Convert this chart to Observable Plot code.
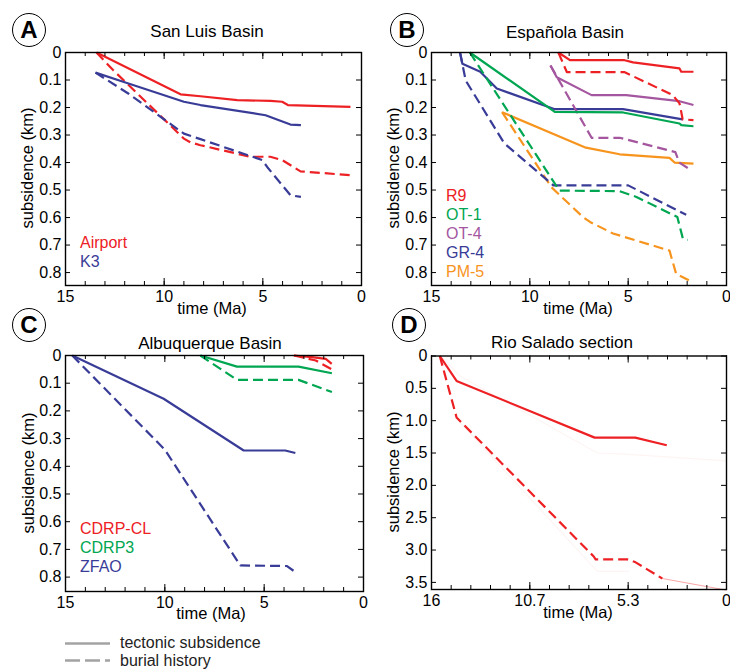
<!DOCTYPE html>
<html><head><meta charset="utf-8">
<script src="https://cdn.jsdelivr.net/npm/d3@7"></script>
<script src="https://cdn.jsdelivr.net/npm/@observablehq/plot@0.6"></script>
<style>
body{margin:0;background:#fff;font-family:"Liberation Sans",Arial,sans-serif;color:#000}
#wrap{position:relative;width:730px;height:670px;overflow:hidden}
.panel{position:absolute}
.c{position:absolute;transform:translate(-50%,-50%);white-space:nowrap;line-height:1}
.title{font-size:17px}
.xlab{font-size:16.5px}
.ylab{font-size:16.5px;transform:translate(-50%,-50%) rotate(-90deg)}
.letter{position:absolute;width:32px;height:32px;border:1.3px solid #000;border-radius:50%;font-weight:bold;font-size:24px;line-height:32px;text-align:center;background:#fff}
.leg{position:absolute;font-size:16px;line-height:1;transform:translateY(-50%);white-space:nowrap}
</style>
</head><body>
<div id="wrap">
  <div class="panel" id="pA" style="left:0;top:0"></div>
  <div class="panel" id="pB" style="left:365px;top:0"></div>
  <div class="panel" id="pC" style="left:0;top:310px"></div>
  <div class="panel" id="pD" style="left:365px;top:310px"></div>
  <div id="labels"></div>
</div>
<script>
// ---------- colours ----------
const RED = "#ED2024", BLUE = "#393C97", GREEN = "#00A651", PURPLE = "#A4569F", ORANGE = "#F7941D", GRAY = "#A3A3A3";

// ---------- tick labels ----------
const xTicksABC = [15, 10, 5, 0];
const xTicksD = [16, 32 / 3, 16 / 3, 0];
const xTickLabelsD = ["16", "10.7", "5.3", "0"];
const yTicksABC = [0, 0.1, 0.2, 0.3, 0.4, 0.5, 0.6, 0.7, 0.8];
const yTicksD = [0, 0.5, 1.0, 1.5, 2.0, 2.5, 3.0, 3.5];

// ---------- A: San Luis Basin  [time Ma, subsidence km] ----------
const airportTectonic = [[13.43,0],[9.17,0.152],[8.16,0.159],[6.3,0.173],[4.61,0.176],[4.02,0.179],[3.73,0.191],[0.56,0.198]];
const airportBurial = [[13.43,0],[12.6,0.063],[9.0,0.313],[8.66,0.327],[8.16,0.337],[5.63,0.379],[4.62,0.379],[4.02,0.391],[3.09,0.432],[0.56,0.446]];
const k3Tectonic = [[13.48,0.073],[12.04,0.107],[9.0,0.179],[8.16,0.191],[4.86,0.228],[3.6,0.262],[3.07,0.264]];
const k3Burial = [[13.48,0.073],[11.8,0.15],[9.0,0.295],[8.16,0.315],[5.03,0.391],[4.78,0.416],[3.6,0.519],[3.07,0.525]];

// ---------- B: Española Basin ----------
const r9Tectonic = [[8.55,0],[7.96,0.028],[5.18,0.028],[4.75,0.036],[2.39,0.058],[2.3,0.07],[1.68,0.07]];
const r9Burial = [[8.55,0],[8.12,0.071],[5.2,0.071],[2.73,0.155],[2.39,0.185],[2.3,0.216],[2.23,0.243],[1.68,0.246]];
const ot1Tectonic = [[13.05,0],[8.73,0.216],[5.26,0.218],[2.39,0.258],[2.3,0.264],[1.68,0.268]];
const ot1Burial = [[13.05,0],[8.5,0.502],[5.43,0.504],[4.58,0.525],[2.5,0.598],[2.22,0.676],[1.97,0.681]];
const ot4Tectonic = [[8.95,0.047],[8.63,0.09],[6.86,0.155],[5.1,0.155],[2.39,0.177],[1.68,0.191]];
const ot4Burial = [[8.95,0.047],[6.86,0.31],[5.43,0.31],[2.6,0.362],[2.4,0.4],[1.97,0.42]];
const gr4Tectonic = [[13.55,0],[13.43,0.041],[12.52,0.07],[11.68,0.131],[8.73,0.206],[5.26,0.206],[2.23,0.243]];
const gr4Burial = [[13.55,0],[13.26,0.102],[11.3,0.33],[8.8,0.483],[5.0,0.483],[2.05,0.59]];
const pm5Tectonic = [[11.41,0.217],[7.15,0.346],[5.43,0.37],[2.9,0.383],[2.64,0.4],[1.68,0.404]];
const pm5Burial = [[11.41,0.217],[8.9,0.49],[7.3,0.598],[6.94,0.616],[5.77,0.658],[2.9,0.72],[2.56,0.805],[1.72,0.835]];

// ---------- C: Albuquerque Basin ----------
const cdrpclTectonic = [[3.5,0],[2.6,0.006],[1.9,0.012],[1.6,0.03]];
const cdrpclBurial = [[3.5,0],[2.4,0.018],[1.6,0.05]];
const cdrp3Tectonic = [[8.21,0],[6.37,0.04],[3.27,0.04],[1.59,0.064]];
const cdrp3Burial = [[8.21,0],[6.37,0.088],[3.27,0.088],[1.59,0.132]];
const zfaoTectonic = [[14.66,0],[10.06,0.156],[6.03,0.343],[3.94,0.343],[3.43,0.352]];
const zfaoBurial = [[14.66,0],[10.0,0.34],[6.2,0.758],[3.85,0.76],[3.43,0.782]];

// ---------- D: Rio Salado section ----------
const rioTectonic = [[15.55,0],[14.64,0.386],[7.15,1.262],[4.95,1.262],[3.24,1.38]];
const rioBurial = [[15.55,0],[14.64,0.95],[7.2,3.1],[7.1,3.144],[5.38,3.144],[4.93,3.19],[3.48,3.44]];
const rioBurialTail = [[3.48,3.44],[0,3.62]];
const rioGhostTectonic = [[15.5,0],[14.5,0.3],[7.0,1.5],[5.3,1.52],[0,1.62]];
const rioGhostBurial = [[14.6,0.98],[7.0,3.33],[5.3,3.33]];

const DASH = "10,5";

function panel({el, xDomain, yMax, ml, mr, mt, h, frameBottom, xMinor, xMajor, xFmt, yTicks, series}) {
  const W = 365;
  const mb = h - frameBottom;
  const innerH = frameBottom - mt;
  const innerW = W - ml - mr;
  const marks = [];
  for (const s of series) {
    marks.push(Plot.line(s.data, {
      x: d => d[0], y: d => d[1], stroke: s.color,
      strokeWidth: s.width ?? 2.2, strokeDasharray: s.dash ? DASH : null,
      strokeOpacity: s.opacity ?? 1, strokeLinecap: "butt", strokeLinejoin: "round"
    }));
  }
  const majorSet = new Set(xMajor.map(v => +v.toFixed(3)));
  const isMajor = v => majorSet.has(+v.toFixed(3));
  // inward ticks, MATLAB box style
  marks.push(Plot.tickX(xMinor, {x: d => d, insetTop: innerH - 4, stroke: "#000", strokeWidth: 1}));
  marks.push(Plot.tickX(xMinor, {x: d => d, insetBottom: innerH - 4, stroke: "#000", strokeWidth: 1}));
  marks.push(Plot.tickX(xMinor.filter(isMajor), {x: d => d, insetTop: innerH - 7, stroke: "#000", strokeWidth: 1}));
  marks.push(Plot.tickX(xMinor.filter(isMajor), {x: d => d, insetBottom: innerH - 7, stroke: "#000", strokeWidth: 1}));
  marks.push(Plot.tickY(yTicks, {y: d => d, insetRight: innerW - 5, stroke: "#000", strokeWidth: 1}));
  marks.push(Plot.tickY(yTicks, {y: d => d, insetLeft: innerW - 5, stroke: "#000", strokeWidth: 1}));
  marks.push(Plot.axisX(xMajor, {anchor: "bottom", tickSize: 0, tickPadding: 5, label: null, tickFormat: xFmt, fontSize: 16}));
  marks.push(Plot.axisY(yTicks, {anchor: "left", tickSize: 0, tickPadding: 4, label: null,
    tickFormat: d => d === 0 ? "0" : d.toFixed(1), fontSize: 16}));
  marks.push(Plot.frame({stroke: "#000", strokeWidth: 1.4}));
  const svg = Plot.plot({
    width: W, height: h,
    marginLeft: ml, marginRight: mr, marginTop: mt, marginBottom: mb,
    x: {domain: xDomain},
    y: {domain: [0, yMax], reverse: true},
    style: {fontFamily: "'Liberation Sans', Arial, sans-serif", fontSize: "16px", background: "transparent", overflow: "visible", color: "#000"},
    marks
  });
  document.getElementById(el).appendChild(svg);
}

const minorABC = d3.range(0, 16, 1);
const minorD = d3.range(0, 16).map(i => 16 * i / 15).concat([16]);

panel({el: "pA", xDomain: [15, 0], yMax: 0.847, ml: 65, mr: 4, mt: 52, h: 330, frameBottom: 285,
  xMinor: minorABC, xMajor: xTicksABC, xFmt: d => String(d), yTicks: yTicksABC,
  series: [
    {data: airportTectonic, color: RED}, {data: airportBurial, color: RED, dash: true},
    {data: k3Tectonic, color: BLUE}, {data: k3Burial, color: BLUE, dash: true}
  ]});

panel({el: "pB", xDomain: [15, 0], yMax: 0.847, ml: 66, mr: 4, mt: 52, h: 330, frameBottom: 285,
  xMinor: minorABC, xMajor: xTicksABC, xFmt: d => String(d), yTicks: yTicksABC,
  series: [
    {data: pm5Burial, color: ORANGE, dash: true}, {data: pm5Tectonic, color: ORANGE},
    {data: gr4Burial, color: BLUE, dash: true}, {data: gr4Tectonic, color: BLUE},
    {data: ot4Burial, color: PURPLE, dash: true}, {data: ot4Tectonic, color: PURPLE},
    {data: ot1Burial, color: GREEN, dash: true}, {data: ot1Tectonic, color: GREEN},
    {data: r9Burial, color: RED, dash: true}, {data: r9Tectonic, color: RED}
  ]});

panel({el: "pC", xDomain: [15, 0], yMax: 0.852, ml: 65, mr: 2, mt: 45, h: 330, frameBottom: 281,
  xMinor: minorABC, xMajor: xTicksABC, xFmt: d => String(d), yTicks: yTicksABC,
  series: [
    {data: zfaoTectonic, color: BLUE}, {data: zfaoBurial, color: BLUE, dash: true},
    {data: cdrp3Tectonic, color: GREEN}, {data: cdrp3Burial, color: GREEN, dash: true},
    {data: cdrpclTectonic, color: RED}, {data: cdrpclBurial, color: RED, dash: true}
  ]});

panel({el: "pD", xDomain: [16, 0], yMax: 3.61, ml: 66, mr: 4, mt: 45.5, h: 330, frameBottom: 279,
  xMinor: minorD, xMajor: xTicksD, xFmt: (d, i) => xTickLabelsD[i], yTicks: yTicksD,
  series: [
    {data: rioGhostTectonic, color: RED, width: 1.2, opacity: 0.05},
    {data: rioGhostBurial, color: RED, width: 1.2, opacity: 0.05},
    {data: rioBurialTail, color: RED, width: 1, opacity: 0.4},
    {data: rioTectonic, color: RED}, {data: rioBurial, color: RED, dash: true}
  ]});

// ---------- text overlays ----------
const titles = ["San Luis Basin", "Española Basin", "Albuquerque Basin", "Rio Salado section"];
const letters = ["A", "B", "C", "D"];
const titlePos = [[207, 31], [565, 31.5], [210, 343], [562, 342]];
const letterPos = [[29, 30], [407, 30], [29, 325], [409, 325]];
const xlabPos = [[212, 308], [578, 308], [211, 613], [578, 612]];
const ylabPos = [[27, 168], [393, 168], [28, 473], [393, 472]];
const legendNames = [["Airport", "K3"], ["R9", "OT-1", "OT-4", "GR-4", "PM-5"], ["CDRP-CL", "CDRP3", "ZFAO"], []];
const legendColors = [[RED, BLUE], [RED, GREEN, PURPLE, BLUE, ORANGE], [RED, GREEN, BLUE], []];
const legendStart = [[80, 243, 19], [446, 196, 18.9], [80, 528.5, 19.2], [0, 0, 0]];

const L = document.getElementById("labels");
let html = "";
for (let i = 0; i < 4; i++) {
  html += `<div class="c xlab" style="left:${xlabPos[i][0]}px;top:${xlabPos[i][1]}px">time (Ma)</div>`;
  html += `<div class="c ylab" style="left:${ylabPos[i][0]}px;top:${ylabPos[i][1]}px">subsidence (km)</div>`;
}
for (let i = 0; i < 4; i++) {
  html += `<div class="c title" style="left:${titlePos[i][0]}px;top:${titlePos[i][1]}px">${titles[i]}</div>`;
  html += `<div class="letter" style="left:${letterPos[i][0] - 17}px;top:${letterPos[i][1] - 17}px">${letters[i]}</div>`;
  legendNames[i].forEach((n, j) => {
    const [lx, ly, dy] = legendStart[i];
    html += `<div class="leg" style="left:${lx}px;top:${ly + j * dy}px;color:${legendColors[i][j]}">${n}</div>`;
  });
}
// bottom key
html += `<svg style="position:absolute;left:60px;top:635px" width="60" height="35">
  <line x1="5" x2="50" y1="8.5" y2="8.5" stroke="${GRAY}" stroke-width="2.6"/>
  <line x1="5" x2="50" y1="25.5" y2="25.5" stroke="${GRAY}" stroke-width="2.6" stroke-dasharray="15,5"/>
</svg>`;
html += `<div class="leg" style="left:120px;top:643px;color:#222">tectonic subsidence</div>`;
html += `<div class="leg" style="left:120px;top:661px;color:#222">burial history</div>`;
L.innerHTML = html;
</script>
</body></html>
